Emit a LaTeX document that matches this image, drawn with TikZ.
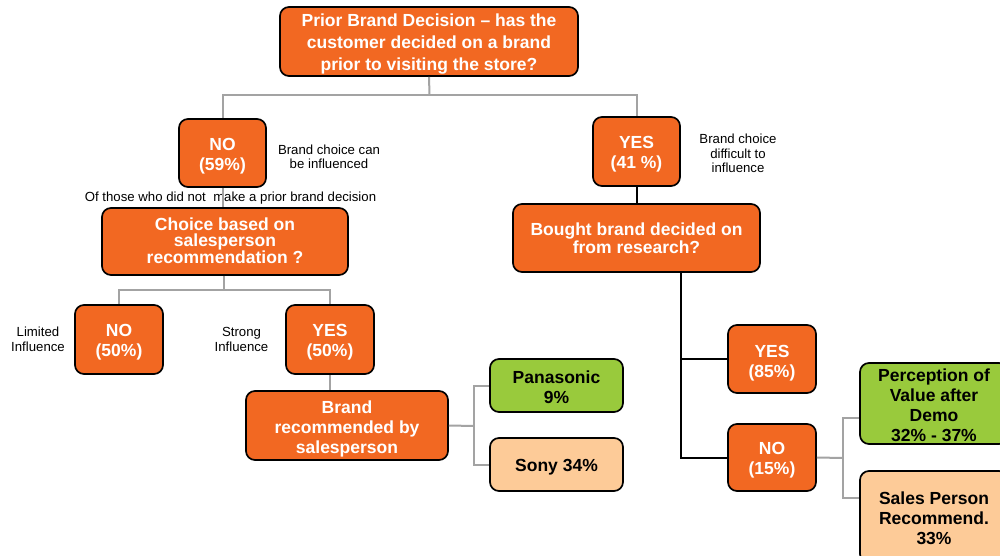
\documentclass[tikz,border=0pt]{standalone}
\usepackage{fontspec}
\setmainfont{Liberation Sans}
\definecolor{org}{HTML}{F26822}
\definecolor{grn}{HTML}{99CA3C}
\definecolor{pch}{HTML}{FDCB98}
\definecolor{gln}{HTML}{A3A3A3}
\newcommand\bx[8]{%
  \node[#1, minimum width=#5pt, minimum height=#6pt] (#2) at (#3,#4) {};
  \node[txt, #7] (#2t) at (#2.center) {#8};}
\begin{document}
\begin{tikzpicture}[x=1pt,y=-1pt,
  obox/.style={draw=black, line width=1.7pt, rounded corners=9pt, fill=org, inner sep=0pt},
  gbox/.style={obox, fill=grn},
  pbox/.style={obox, fill=pch},
  txt/.style={text=white, font=\bfseries\fontsize{17.5}{20}\selectfont, align=center, inner sep=0pt},
  dk/.style={text=black},
  ls/.style={font=\bfseries\fontsize{17.5}{#1}\selectfont},
  lbl/.style={font=\fontsize{13.2}{14.5}\selectfont, align=center, inner sep=0pt},
  gl/.style={draw=gln, line width=2pt},
  bl/.style={draw=black, line width=2pt}]
\clip (0,0) rectangle (1000,556);
\fill[white] (0,0) rectangle (1000,556);
% boxes
\bx{obox}{top}{429}{41.5}{298}{69}{ls=22, yshift=-2.5pt}
  {Prior Brand Decision -- has the\\customer decided on a brand\\prior to visiting the store?}
\bx{obox}{no59}{222.5}{153}{87}{68}{yshift=-3pt}{NO\\(59\%)}
\bx{obox}{yes41}{636.5}{151.5}{87}{69}{yshift=-3pt}{YES\\(41 \%)}
\bx{obox}{choice}{225}{241.5}{246}{67}{ls=16.5, yshift=1pt}
  {Choice based on\\salesperson\\recommendation ?}
\bx{obox}{bought}{636.5}{238}{247}{68}{ls=17.5, yshift=0pt}
  {Bought brand decided on\\from research?}
\bx{obox}{no50}{119}{339.5}{88}{69}{yshift=-3pt}{NO\\(50\%)}
\bx{obox}{yes50}{330}{339.5}{88}{69}{yshift=-3pt}{YES\\(50\%)}
\bx{obox}{brand}{347}{425.5}{202}{69}{yshift=-3pt}
  {Brand\\recommended by\\salesperson}
\bx{gbox}{pan}{556.5}{385.5}{133}{53}{dk, yshift=-2pt}{Panasonic\\9\%}
\bx{pbox}{sony}{556.5}{464.5}{133}{53}{dk, yshift=-3pt}{Sony 34\%}
\bx{obox}{yes85}{772}{359}{88}{68}{yshift=-4pt}{YES\\(85\%)}
\bx{obox}{no15}{772}{457.5}{88}{67}{yshift=-3pt}{NO\\(15\%)}
\bx{gbox}{perc}{934}{403.5}{148}{81}{dk, yshift=-1.5pt}
  {Perception of\\Value after\\Demo\\32\% - 37\%}
\bx{pbox}{sales}{934}{517}{148}{92}{dk, yshift=-1.5pt}
  {Sales Person\\Recommend.\\33\%}
% labels
\node[lbl] (l1) at (329,157) {Brand choice can\\be influenced};
\node[lbl] (l2) at (230.5,198.5) {Of those who did not\ \ make a prior brand decision};
\node[lbl] (l3) at (738,153.5) {Brand choice\\difficult to\\influence};
\node[lbl] (l4) at (38,339.5) {Limited\\Influence};
\node[lbl] (l5) at (241.5,339.5) {Strong\\Influence};
% connectors
\coordinate (j1) at (429.5,95);
\draw[gl] (top.south) -- (j1);
\draw[gl] (j1) -| (no59.north);
\draw[gl] (j1) -| (yes41.north);
\draw[gl] (no59.south) -- (no59.south |- choice.north);
\coordinate (j2) at (224,290);
\draw[gl] (choice.south -| j2) -- (j2);
\draw[gl] (j2) -| (no50.north);
\draw[gl] (j2) -| (yes50.north);
\draw[gl] (yes50.south) -- (yes50.south |- brand.north);
\coordinate (j3) at (474,426);
\draw[gl] (brand.east) -- (j3);
\draw[gl] (pan.west) -| (j3) |- (sony.west);
\draw[bl] (yes41.south) -- (yes41.south |- bought.north);
\coordinate (j4) at (681,272);
\draw[bl] (j4) |- (yes85.west);
\draw[bl] (j4) |- (no15.west);
\coordinate (j5) at (843,458);
\draw[gl] (no15.east) -- (j5);
\draw[gl] ([yshift=-14.5pt]perc.west) -| (j5) |- ([yshift=19pt]sales.west);
\end{tikzpicture}
\end{document}
